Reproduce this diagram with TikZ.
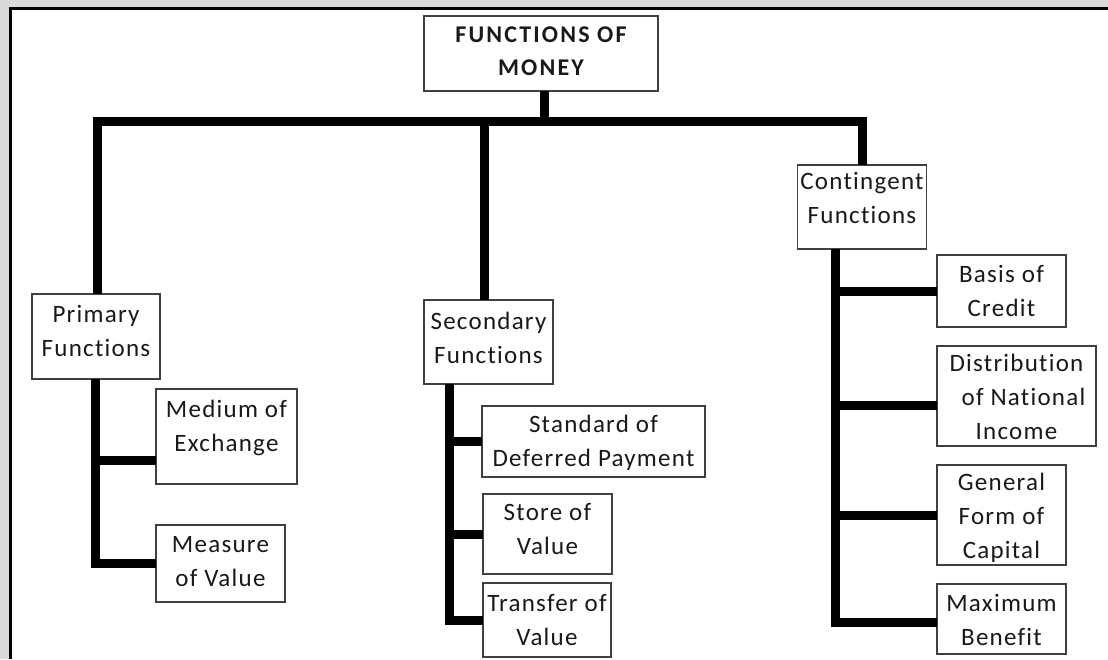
\documentclass[tikz,border=0pt]{standalone}
\usepackage{fontspec}
\setmainfont[Ligatures={NoCommon,NoContextual}]{Carlito}
\definecolor{framegray}{HTML}{D9D9D9}
\newcommand{\boxtxt}[4]{\parbox[c][#3pt][t]{#2pt}{\centering\rule{0pt}{#1pt}#4}}
\begin{document}
\begin{tikzpicture}[x=1pt,y=-1pt,
  bx/.style={draw=black!75, line width=1.3pt, inner sep=0pt, outer sep=0pt, fill=white, text=black!90,
    anchor=north west, font=\fontsize{25}{34}\selectfont\addfontfeatures{LetterSpace=5}},
  rootbx/.style={bx, font=\fontsize{24}{33}\selectfont\bfseries\addfontfeatures{LetterSpace=9}},
  conn/.style={line width=9pt, black, line join=miter}]
\useasboundingbox (0,0) rectangle (1108,659);
\fill[white] (0,0) rectangle (1108,659);
\fill[framegray] (0,0) rectangle (1108,7.5);
\fill[framegray] (0,0) rectangle (9.5,659);
\draw[black, line width=2.5pt] (10.5,659) -- (10.5,8.7) -- (1108,8.7);

\coordinate (barR) at (862,121.5);

% boxes
\node[rootbx] (root) at (424,16) {\boxtxt{26}{234}{75}{FUNCTIONS OF\\MONEY}};
\node[bx] (prim) at (32,294) {\boxtxt{28}{128}{85}{Primary\\Functions}};
\node[bx] (med) at (156,389) {\boxtxt{28}{141}{95}{Medium of\\Exchange}};
\node[bx] (meas) at (156,525) {\boxtxt{27}{129}{77}{Measure\\of Value}};
\node[bx] (sec) at (424,300) {\boxtxt{29}{129}{84}{Secondary\\Functions}};
\node[bx] (std) at (482,406) {\boxtxt{26}{223}{71}{Standard of\\Deferred Payment}};
\node[bx] (store) at (483,494) {\boxtxt{26}{129}{80}{Store of\\Value}};
\node[bx] (trans) at (483,583) {\boxtxt{28}{128}{74}{Transfer of\\Value}};
\node[bx] (cont) at (797.5,165) {\boxtxt{24}{129}{84}{Contingent\\Functions}};
\node[bx] (basis) at (937,255) {\boxtxt{27}{129}{72}{Basis of\\Credit}};
\node[bx] (dist) at (937,346) {\boxtxt{25}{159}{100}{Distribution\\\hspace*{14pt}of National\\Income}};
\node[bx] (gen) at (937,465) {\boxtxt{25}{129}{100}{General\\Form of\\Capital}};
\node[bx] (max) at (937,584) {\boxtxt{27}{129}{70}{Maximum\\Benefit}};

% top level
\draw[conn] ([xshift=3.5pt]root.south) -- ([xshift=3.5pt]root.south |- barR);
\draw[conn] ([xshift=1pt]prim.north) |- (barR) -- (cont.north);
\draw[conn] ([xshift=-4.5pt]sec.north) -- ([xshift=-4.5pt]sec.north |- barR);

% primary
\coordinate (pv) at ([xshift=-1pt]prim.south);
\coordinate (medin) at ([yshift=-23.5pt]med.west);
\draw[conn] (pv) |- (meas.west);
\draw[conn] (pv |- medin) -- (medin);

% secondary
\coordinate (sv) at ([xshift=-39.5pt]sec.south);
\draw[conn] (sv) |- (trans.west);
\draw[conn] (sv |- std.west) -- (std.west);
\draw[conn] (sv |- store.west) -- (store.west);

% contingent
\coordinate (cv) at ([xshift=-27pt]cont.south);
\coordinate (distin) at ([yshift=-9pt]dist.west);
\coordinate (maxin) at ([yshift=-3pt]max.west);
\draw[conn] (cv) |- (maxin);
\draw[conn] (cv |- basis.west) -- (basis.west);
\draw[conn] (cv |- distin) -- (distin);
\draw[conn] (cv |- gen.west) -- (gen.west);
\end{tikzpicture}
\end{document}
